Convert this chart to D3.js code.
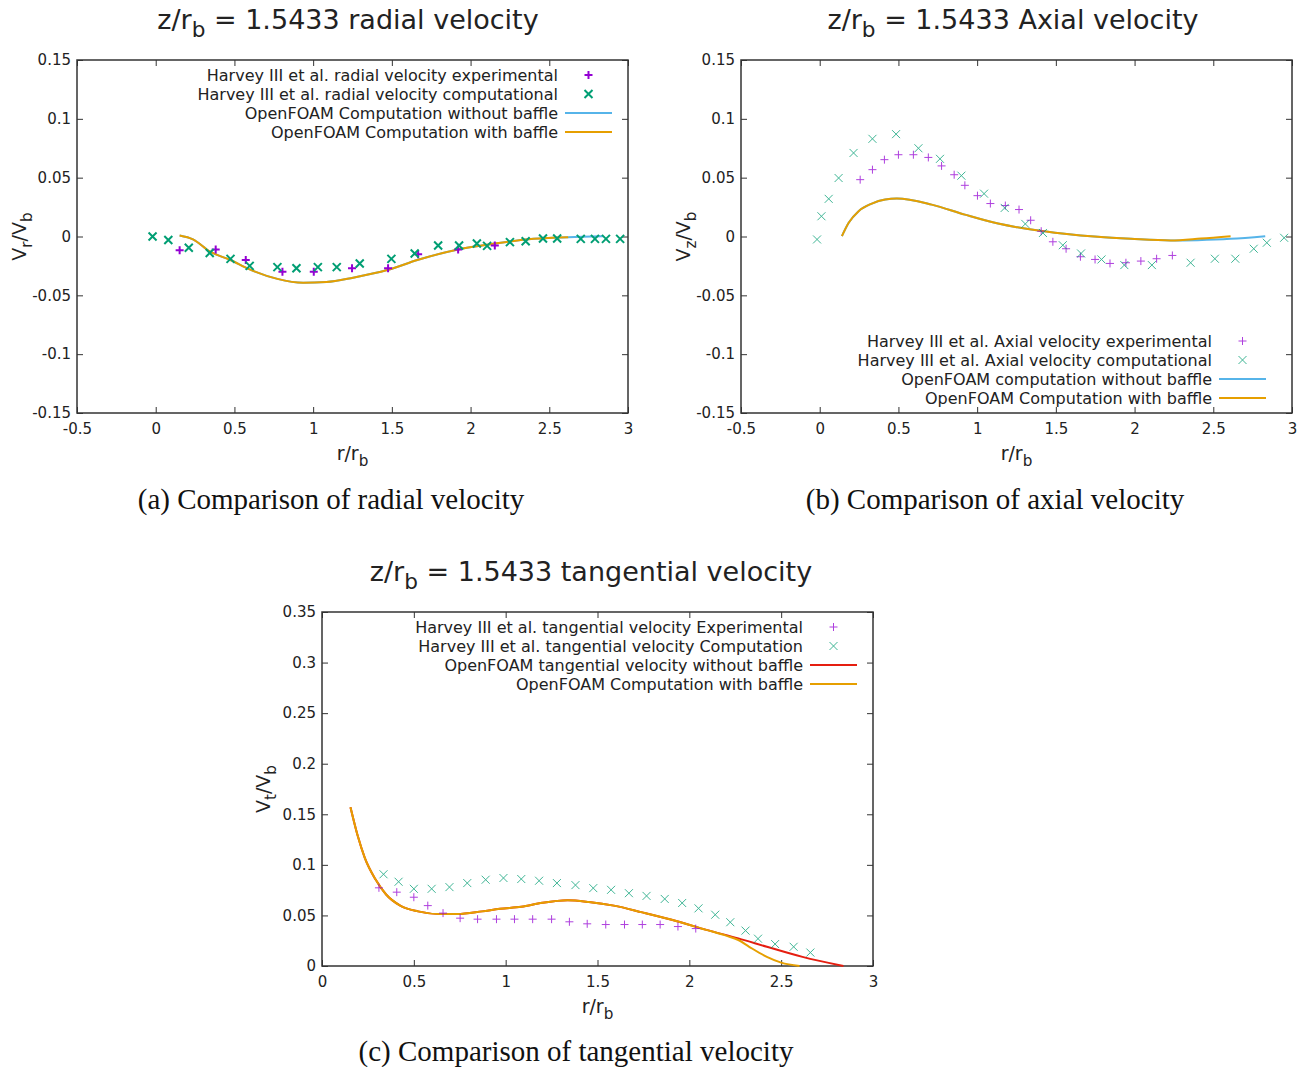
<!DOCTYPE html>
<html><head><meta charset="utf-8">
<script src="https://cdn.jsdelivr.net/npm/d3@7"></script>
<style>body{margin:0;background:#fff}svg{display:block}</style>
</head><body><svg id="c" width="1315" height="1067"></svg>
<script>
// ---------------- DATA ----------------
const xTicksAB = [-0.5, 0, 0.5, 1, 1.5, 2, 2.5, 3];
const yTicksAB = [-0.15, -0.1, -0.05, 0, 0.05, 0.1, 0.15];
const xTicksC = [0, 0.5, 1, 1.5, 2, 2.5, 3];
const yTicksC = [0, 0.05, 0.1, 0.15, 0.2, 0.25, 0.3, 0.35];

// (a) radial velocity
const radialExp = [[0.152,-0.0116],[0.381,-0.011],[0.572,-0.020],[0.805,-0.030],[1.004,-0.030],[1.247,-0.027],[1.476,-0.027],[1.667,-0.015],[1.921,-0.011],[2.154,-0.0077]];
const radialComp = [[-0.02,0.0],[0.08,-0.003],[0.21,-0.0096],[0.343,-0.014],[0.475,-0.019],[0.597,-0.025],[0.773,-0.026],[0.894,-0.027],[1.03,-0.026],[1.15,-0.026],[1.296,-0.023],[1.497,-0.019],[1.645,-0.0144],[1.794,-0.0077],[1.927,-0.0077],[2.04,-0.006],[2.105,-0.008],[2.25,-0.0048],[2.35,-0.004],[2.46,-0.0017],[2.55,-0.0017],[2.70,-0.002],[2.79,-0.002],[2.86,-0.002],[2.95,-0.002]];
const radialNoBaffle = [[0.152,0.0008],[0.237,-0.0025],[0.343,-0.0127],[0.475,-0.020],[0.597,-0.028],[0.773,-0.036],[0.936,-0.0393],[1.084,-0.0387],[1.254,-0.035],[1.476,-0.0283],[1.667,-0.0198],[1.92,-0.011],[2.154,-0.006],[2.40,-0.002],[2.62,-0.0006],[2.84,0.0002]];
const radialBaffle = [[0.152,0.0008],[0.237,-0.0025],[0.343,-0.0127],[0.475,-0.020],[0.597,-0.028],[0.773,-0.036],[0.936,-0.0393],[1.084,-0.0387],[1.254,-0.035],[1.476,-0.0283],[1.667,-0.0198],[1.92,-0.011],[2.154,-0.006],[2.40,-0.002],[2.62,-0.0006]];

// (b) axial velocity
const axialExp = [[0.257,0.0483],[0.335,0.0568],[0.411,0.0653],[0.50,0.0695],[0.595,0.0695],[0.69,0.0672],[0.774,0.060],[0.854,0.0525],[0.922,0.0435],[1.002,0.0347],[1.084,0.028],[1.179,0.0263],[1.266,0.0229],[1.34,0.0138],[1.407,0.0045],[1.481,-0.0045],[1.565,-0.0104],[1.656,-0.0172],[1.749,-0.0195],[1.844,-0.0229],[1.945,-0.0223],[2.04,-0.0209],[2.14,-0.0189],[2.24,-0.0161]];
const axialComp = [[-0.017,-0.0025],[0.011,0.0172],[0.057,0.032],[0.12,0.0497],[0.215,0.071],[0.335,0.083],[0.485,0.087],[0.627,0.075],[0.764,0.066],[0.90,0.0517],[1.044,0.0364],[1.175,0.0243],[1.306,0.0107],[1.418,0.003],[1.544,-0.0074],[1.66,-0.0144],[1.79,-0.0195],[1.935,-0.0243],[2.11,-0.0243],[2.356,-0.0223],[2.51,-0.0189],[2.64,-0.0189],[2.757,-0.0104],[2.84,-0.0053],[2.95,-0.0011]];
const axialNoBaffle = [[0.141,0.0003],[0.184,0.0116],[0.247,0.0215],[0.331,0.028],[0.416,0.0314],[0.49,0.0322],[0.711,0.0271],[0.922,0.0186],[1.133,0.011],[1.344,0.0059],[1.555,0.0023],[1.766,-0.0003],[1.977,-0.002],[2.23,-0.0034],[2.40,-0.0031],[2.61,-0.002],[2.83,0.0003]];
const axialBaffle = [[0.141,0.0003],[0.184,0.0116],[0.247,0.0215],[0.331,0.028],[0.416,0.0314],[0.49,0.0322],[0.711,0.0271],[0.922,0.0186],[1.133,0.011],[1.344,0.0059],[1.555,0.0023],[1.766,-0.0003],[1.977,-0.002],[2.23,-0.0034],[2.42,-0.0018],[2.61,0.0003]];

// (c) tangential velocity
const tangExp = [[0.310,0.0773],[0.407,0.073],[0.5,0.068],[0.576,0.0597],[0.659,0.0523],[0.752,0.0473],[0.847,0.0463],[0.950,0.0463],[1.048,0.0463],[1.147,0.0463],[1.25,0.0463],[1.347,0.0437],[1.444,0.0417],[1.545,0.041],[1.647,0.041],[1.744,0.041],[1.841,0.041],[1.938,0.039],[2.035,0.037]];
const tangComp = [[0.335,0.0907],[0.417,0.0833],[0.5,0.0763],[0.597,0.0763],[0.694,0.078],[0.791,0.082],[0.891,0.0853],[0.988,0.087],[1.085,0.086],[1.182,0.0843],[1.279,0.082],[1.38,0.080],[1.477,0.077],[1.574,0.0753],[1.671,0.072],[1.767,0.0693],[1.866,0.0663],[1.961,0.0623],[2.05,0.057],[2.141,0.0507],[2.223,0.0433],[2.306,0.035],[2.374,0.027],[2.467,0.0217],[2.568,0.019],[2.659,0.0133]];
const tangNoBaffle = [[0.155,0.157],[0.194,0.129],[0.233,0.107],[0.291,0.0857],[0.349,0.0707],[0.426,0.0597],[0.523,0.054],[0.64,0.0513],[0.736,0.0513],[0.872,0.054],[0.969,0.0565],[1.085,0.0585],[1.2,0.0625],[1.337,0.065],[1.453,0.0633],[1.589,0.0597],[1.744,0.053],[1.938,0.044],[2.093,0.0357],[2.267,0.0273],[2.422,0.019],[2.616,0.009],[2.839,0.0]];
const tangBaffle = [[0.155,0.157],[0.194,0.129],[0.233,0.107],[0.291,0.0857],[0.349,0.0707],[0.426,0.0597],[0.523,0.054],[0.64,0.0513],[0.736,0.0513],[0.872,0.054],[0.969,0.0565],[1.085,0.0585],[1.2,0.0625],[1.337,0.065],[1.453,0.0633],[1.589,0.0597],[1.744,0.053],[1.938,0.044],[2.093,0.0357],[2.2,0.030],[2.267,0.0257],[2.326,0.019],[2.422,0.009],[2.5,0.0033],[2.6,0.0]];

const legendA = ["Harvey III et al. radial velocity experimental","Harvey III et al. radial velocity computational","OpenFOAM Computation without baffle","OpenFOAM Computation with baffle"];
const legendB = ["Harvey III et al. Axial velocity experimental","Harvey III et al. Axial velocity computational","OpenFOAM computation without baffle","OpenFOAM Computation with baffle"];
const legendC = ["Harvey III et al. tangential velocity Experimental","Harvey III et al. tangential velocity Computation","OpenFOAM tangential velocity without baffle","OpenFOAM Computation with baffle"];

// ---------------- DRAW ----------------
const svg = d3.select("#c");
const FONT = "DejaVu Sans, sans-serif";
const C_PURPLE = "#9400d3", C_GREEN = "#009e73", C_BLUE = "#56b4e9", C_ORANGE = "#e69f00", C_RED = "#e51e10";
const fmt = v => (+v.toFixed(2)).toString();

function subText(sel, parts, size) {
  let shifted = false;
  parts.forEach(([t, sub]) => {
    const ts = sel.append("tspan").text(t);
    if (sub && !shifted) { ts.attr("dy", size*0.3).attr("font-size", size*0.8); shifted = true; }
    else if (!sub && shifted) { ts.attr("dy", -size*0.3); shifted = false; }
    else if (sub) ts.attr("font-size", size*0.8);
  });
}

function panel(o) {
  const x = d3.scaleLinear().domain(o.xd).range([o.l, o.r]);
  const y = d3.scaleLinear().domain(o.yd).range([o.b, o.t]);
  const g = svg.append("g");
  const tickStyle = a => {
    a.selectAll(".domain").remove();
    a.selectAll(".tick line").attr("stroke", "#333").attr("stroke-width", 1);
    a.selectAll("text").attr("font-family", FONT).attr("font-size", 15).attr("fill", "#222");
  };
  g.append("g").attr("transform", `translate(0,${o.b})`)
    .call(d3.axisBottom(x).tickValues(o.xt).tickFormat(fmt).tickSizeInner(-6).tickSizeOuter(0).tickPadding(10)).call(tickStyle);
  g.append("g").attr("transform", `translate(0,${o.t})`)
    .call(d3.axisTop(x).tickValues(o.xt).tickFormat("").tickSizeInner(-6).tickSizeOuter(0)).call(tickStyle);
  g.append("g").attr("transform", `translate(${o.l},0)`)
    .call(d3.axisLeft(y).tickValues(o.yt).tickFormat(fmt).tickSizeInner(-6).tickSizeOuter(0).tickPadding(6)).call(tickStyle);
  g.append("g").attr("transform", `translate(${o.r},0)`)
    .call(d3.axisRight(y).tickValues(o.yt).tickFormat("").tickSizeInner(-6).tickSizeOuter(0)).call(tickStyle);
  g.append("rect").attr("x", o.l).attr("y", o.t).attr("width", o.r - o.l).attr("height", o.b - o.t)
    .attr("fill", "none").attr("stroke", "#333").attr("stroke-width", 1.5);

  const tt = g.append("text").attr("x", o.titx).attr("y", o.t - 31).attr("text-anchor", "middle")
    .attr("font-family", FONT).attr("font-size", 27).attr("fill", "#222");
  subText(tt, [["z/r", false], ["b", true], [" = 1.5433 " + o.title, false]], 27);
  const xl = g.append("text").attr("x", (o.l + o.r)/2).attr("y", o.b + 47).attr("text-anchor", "middle")
    .attr("font-family", FONT).attr("font-size", 19).attr("fill", "#222");
  subText(xl, [["r/r", false], ["b", true]], 19);
  const yl = g.append("text").attr("transform", `translate(${o.ylx},${(o.t + o.b)/2}) rotate(-90)`).attr("text-anchor", "middle")
    .attr("font-family", FONT).attr("font-size", 19).attr("fill", "#222");
  subText(yl, [["V", false], [o.ysub, true], ["/V", false], ["b", true]], 19);
  g.append("text").attr("x", o.capx).attr("y", o.capy).attr("text-anchor", "middle")
    .attr("font-family", "Liberation Serif, serif").attr("font-size", 29).attr("fill", "#111").text(o.caption);

  const line = d3.line().x(d => x(d[0])).y(d => y(d[1])).curve(d3.curveMonotoneX);
  const plot = g.append("g");
  plot.append("path").datum(o.noBaffle).attr("d", line).attr("fill", "none").attr("stroke", o.noColor).attr("stroke-width", 2);
  plot.append("path").datum(o.baffle).attr("d", line).attr("fill", "none").attr("stroke", C_ORANGE).attr("stroke-width", 2);

  const ms = 4, sw = o.msw;
  const plus = (sel, px, py) => sel.append("path").attr("d", `M${px-ms},${py}H${px+ms}M${px},${py-ms}V${py+ms}`);
  const cross = (sel, px, py) => sel.append("path").attr("d", `M${px-ms},${py-ms}L${px+ms},${py+ms}M${px-ms},${py+ms}L${px+ms},${py-ms}`);
  const pe = plot.append("g").attr("stroke", C_PURPLE).attr("stroke-width", sw).attr("fill", "none").attr("opacity", o.mop);
  o.exp.forEach(d => plus(pe, x(d[0]), y(d[1])));
  const pc = plot.append("g").attr("stroke", C_GREEN).attr("stroke-width", sw).attr("fill", "none").attr("opacity", o.mop);
  o.comp.forEach(d => cross(pc, x(d[0]), y(d[1])));

  const lg = g.append("g");
  o.legend.forEach((t, i) => {
    const ly = o.legY + i*19;
    lg.append("text").attr("x", o.legX).attr("y", ly + 5.5).attr("text-anchor", "end")
      .attr("font-family", FONT).attr("font-size", 16).attr("fill", "#222").text(t);
    const sx0 = o.legX + 7, sx1 = o.legX + 54, cx = (sx0 + sx1)/2;
    if (i === 0) { const s = lg.append("g").attr("stroke", C_PURPLE).attr("stroke-width", sw).attr("opacity", o.mop); plus(s, cx, ly); }
    else if (i === 1) { const s = lg.append("g").attr("stroke", C_GREEN).attr("stroke-width", sw).attr("opacity", o.mop); cross(s, cx, ly); }
    else lg.append("line").attr("x1", sx0).attr("x2", sx1).attr("y1", ly).attr("y2", ly)
      .attr("stroke", i === 2 ? o.noColor : C_ORANGE).attr("stroke-width", 2);
  });
}

panel({l:77, r:628, t:60, b:413, xd:[-0.5,3], yd:[-0.15,0.15], xt:xTicksAB, yt:yTicksAB,
  title:"radial velocity", titx:348, ysub:"r", ylx:26, capx:331, capy:509, caption:"(a) Comparison of radial velocity",
  exp:radialExp, comp:radialComp, noBaffle:radialNoBaffle, baffle:radialBaffle, noColor:C_BLUE,
  legend:legendA, legX:558, legY:75, msw:2, mop:1});
panel({l:741, r:1292, t:60, b:413, xd:[-0.5,3], yd:[-0.15,0.15], xt:xTicksAB, yt:yTicksAB,
  title:"Axial velocity", titx:1013, ysub:"z", ylx:690, capx:995, capy:509, caption:"(b) Comparison of axial velocity",
  exp:axialExp, comp:axialComp, noBaffle:axialNoBaffle, baffle:axialBaffle, noColor:C_BLUE,
  legend:legendB, legX:1212, legY:341, msw:1, mop:0.75});
panel({l:322, r:873, t:612, b:966, xd:[0,3], yd:[0,0.35], xt:xTicksC, yt:yTicksC,
  title:"tangential velocity", titx:591, ysub:"t", ylx:270, capx:576, capy:1061, caption:"(c) Comparison of tangential velocity",
  exp:tangExp, comp:tangComp, noBaffle:tangNoBaffle, baffle:tangBaffle, noColor:C_RED,
  legend:legendC, legX:803, legY:627, msw:1, mop:0.75});
</script></body></html>
